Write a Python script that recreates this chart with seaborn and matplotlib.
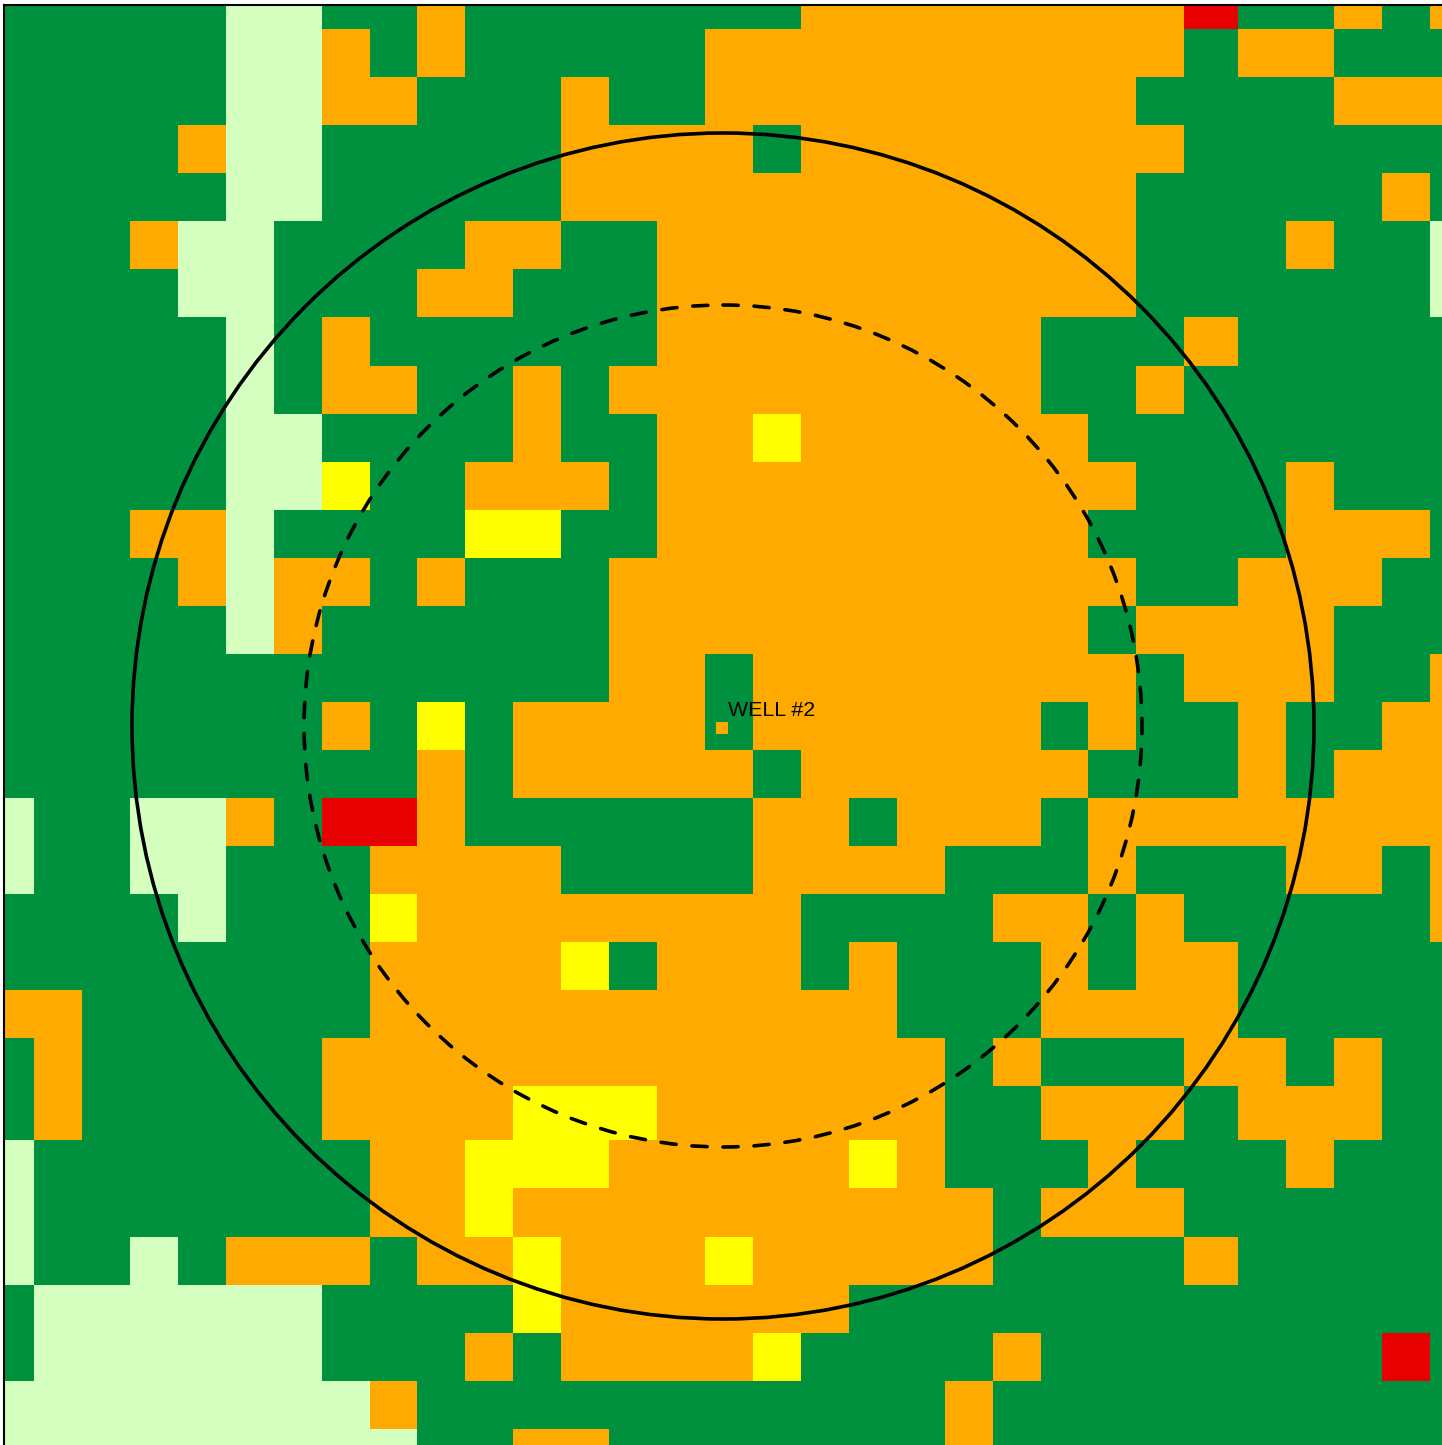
import numpy as np
import matplotlib
matplotlib.use("Agg")
import matplotlib.pyplot as plt
import seaborn as sns
from matplotlib.colors import ListedColormap
from matplotlib.patches import Ellipse


# G green, P pale, O orange, Y yellow, R red
CLASS_CODES = ["G", "P", "O", "Y", "R"]
CLASS_COLORS = ["#00913F", "#D4FFBE", "#FFAA00", "#FFFF00", "#E60000"]

CLASS_ROWS = [
    "GGGGG PP GG O GGGGGGG OOOOOOOO R GG O G O",
    "GGGGG PP O G O GGGGG OOOOOOOOOO G OO GGG",
    "GGGGG PP OO GGG O GG OOOOOOOOO GGGG OOO",
    "GGGG O PP GGGGG OOOO G OOOOOOOO GGGGGG",
    "GGGGG PP GGGGG OOOOOOOOOOOO GGGGG O G",
    "GGG O PP GGGG OO GG OOOOOOOOOO GGG O GG P",
    "GGGG PP GGG OO GGG OOOOOOOOOO GGGGGG P",
    "GGGGG P G O GGGGGG OOOOOOOO GGG O GGGGG",
    "GGGGG P G OO GG O G OOOOOOOOO GG O GGGGGG",
    "GGGGG PP GGGG O GG OO Y OOOOOO GGGGGGGG",
    "GGGGG PP Y GG OOO G OOOOOOOOOO GGG O GGG",
    "GGG OO P GGGG YY GG OOOOOOOOO GGGG OOO G",
    "GGGG O P OO G O GGG OOOOOOOOOOO GG OOO GG",
    "GGGGG P O GGGGGG OOOOOOOOOO G OOOO GGG",
    "GGGGGGGGGGGGG OO G OOOOOOOO G OOO GG O",
    "GGGGGGG O G Y G OOOO G OOOOOO G O GG O GG OO",
    "GGGGGGGGG O G OOOOO G OOOOOO GGG O G OOO",
    "P GG PP O G RR O GGGGGG OO G OOO G OOOOOOOO",
    "P GG PP GGG OOOO GGGG OOOO GGG O GGG OO G O",
    "GGGG P GGG Y OOOOOOOO GGGG OO G O GGGGG O",
    "GGGGGGGG OOOO Y G OOO G O GGG O G OO GGGGG",
    "OO GGGGGG OOOOOOOOOOO GGG OOOO GGGGG",
    "G O GGGGG OOOOOOOOOOOOO G O GGG OO G O GG",
    "G O GGGGG OOOO YYY OOOOOO GG OOO G OOO GG",
    "P GGGGGGG OO YYY OOOOO Y O GGG O GGG O GGG",
    "P GGGGGGG OO Y OOOOOOOOOO G OOO GGGGGG",
    "P GG P G OOO G OO Y OOO Y OOOOO GGGG O GGGGG",
    "G PPPPPP GGGG Y OOOOOO GGGGGGGGGGGGG",
    "G PPPPPP GGG O G OOOO Y GGGG O GGGGGGG R G",
    "PPPPPPPP O GGGGGGGGGGG O GGGGGGGGGG",
    "PPPPPPPPP GG OO GGGGGGG O GGGGGGGGGG",
]

# cell edges, the source raster is not quite regular
COL_EDGES = [4, 34, 82, 130, 178, 226, 274, 322, 370, 417, 465, 513, 561, 609, 657, 705,
             753, 801, 849, 897, 945, 993, 1041, 1088, 1136, 1184, 1238, 1286, 1334, 1382,
             1430, 1442]
ROW_EDGES = [5, 29, 77, 125, 173, 221, 269, 317, 366, 414, 462, 510, 558, 606, 654, 702,
             750, 798, 846, 894, 942, 990, 1038, 1086, 1140, 1188, 1237, 1285, 1333, 1381,
             1429, 1445]

WELL_X = 717.5
WELL_Y = 722.5
WELL_LABEL = "WELL #2"
RING_CENTER = (719, 721)
# the rings are a touch taller than wide in the source
OUTER_RING_SIZE = (1182, 1186)
INNER_RING_SIZE = (838, 842)


def build_grid() -> np.ndarray:
    """
    Turn the class rows into a pixel-sized grid of class codes.
    """
    rows = [row.replace(" ", "") for row in CLASS_ROWS]
    grid = np.array([[CLASS_CODES.index(code) for code in row] for row in rows])
    grid = np.repeat(grid, np.diff(ROW_EDGES), axis=0)
    grid = np.repeat(grid, np.diff(COL_EDGES), axis=1)
    return grid


def draw_map(grid: np.ndarray) -> None:
    """
    Draw the raster, the two rings and the well.
    """
    sns.set_theme(style="white")
    plt.rcParams["font.family"] = ["Liberation Sans", "DejaVu Sans"]

    fig = plt.figure(figsize=(14.42, 14.45), dpi=100)
    ax = fig.add_axes([4 / 1442, 0, 1438 / 1442, 1440 / 1445])

    sns.heatmap(
        grid,
        cmap=ListedColormap(CLASS_COLORS),
        vmin=-0.5,
        vmax=len(CLASS_COLORS) - 0.5,
        cbar=False,
        xticklabels=False,
        yticklabels=False,
        ax=ax,
    )

    ax.add_patch(Ellipse(RING_CENTER, *OUTER_RING_SIZE, fill=False, ec="black", lw=2.6))
    ax.add_patch(
        Ellipse(
            RING_CENTER,
            *INNER_RING_SIZE,
            fill=False,
            ec="black",
            lw=2.6,
            linestyle=(0, (4.2, 4.4)),
            capstyle="round",
        )
    )

    ax.scatter([WELL_X], [WELL_Y], marker="s", s=63, color=CLASS_COLORS[2], linewidths=0, zorder=3)
    ax.text(WELL_X + 6.5, WELL_Y - 11.2, WELL_LABEL, fontsize=15.4, color="black", va="baseline")

    for side in ["left", "top"]:
        ax.spines[side].set_visible(True)
        ax.spines[side].set_color("black")
        ax.spines[side].set_linewidth(1.5)

    fig.savefig("out.png", dpi=100)
    plt.close(fig)


if __name__ == "__main__":
    draw_map(build_grid())
